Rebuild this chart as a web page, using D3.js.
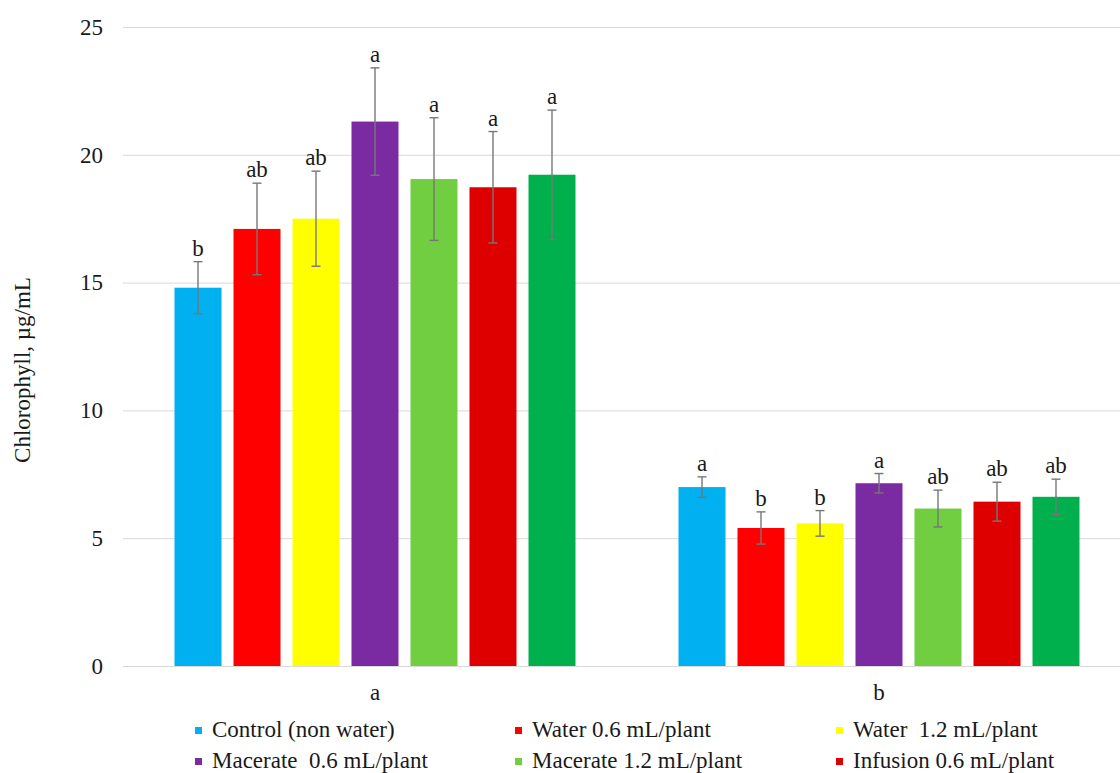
<!DOCTYPE html>
<html>
<head>
<meta charset="utf-8">
<script src="https://cdn.jsdelivr.net/npm/d3@7"></script>
<style>
  html, body { margin: 0; padding: 0; background: #fff; }
  svg { display: block; }
  text { font-family: "Liberation Serif", "Times New Roman", serif; fill: #1a1a1a; }
</style>
</head>
<body>
<svg id="chart" width="1120" height="773"></svg>
<script>
// Groups on the category axis
const groups = ["a", "b"];

// Treatments (one bar per treatment within each group)
const treatments = [
  "Control (non water)",
  "Water 0.6 mL/plant",
  "Water  1.2 mL/plant",
  "Macerate  0.6 mL/plant",
  "Macerate 1.2 mL/plant",
  "Infusion 0.6 mL/plant",
  "Infusion 1.2 mL/plant"
];
const treatmentColors = ["#00B0F0", "#FF0000", "#FFFF00", "#7B2BA1", "#70CE40", "#DE0000", "#00B04C"];

// Chlorophyll means (µg/mL), one array per group, in treatment order
const meansA = [14.8, 17.1, 17.5, 21.3, 19.05, 18.73, 19.22];
const meansB = [7.0, 5.4, 5.58, 7.15, 6.16, 6.43, 6.62];

// Error bar half-widths
const errA = [1.02, 1.79, 1.86, 2.1, 2.4, 2.18, 2.53];
const errB = [0.4, 0.63, 0.5, 0.38, 0.72, 0.76, 0.69];

// Significance letters
const lettersA = ["b", "ab", "ab", "a", "a", "a", "a"];
const lettersB = ["a", "b", "b", "a", "ab", "ab", "ab"];

// Y axis ticks
const yTicks = [0, 5, 10, 15, 20, 25];
const yTitle = "Chlorophyll, µg/mL";

const rows = [
  { group: "a", means: meansA, errs: errA, letters: lettersA },
  { group: "b", means: meansB, errs: errB, letters: lettersB }
];

const FONT = "'Liberation Serif', 'Times New Roman', serif";
const svg = d3.select("#chart");
const plotLeft = 123, plotRight = 1131, plotTop = 27, plotBottom = 666;

const x0 = d3.scaleBand().domain(groups).range([plotLeft, plotRight]).paddingInner(0).paddingOuter(0);
const x1 = d3.scaleBand().domain(treatments).range([0, x0.bandwidth()])
  .paddingInner(12 / 59).paddingOuter(0.873);
const y = d3.scaleLinear().domain([0, 25]).range([plotBottom, plotTop]);
const color = d3.scaleOrdinal().domain(treatments).range(treatmentColors);

// Gridlines and value labels
const yAxis = svg.append("g")
  .attr("transform", `translate(${plotLeft},0)`)
  .call(d3.axisLeft(y).tickValues(yTicks).tickSize(-(plotRight - plotLeft)).tickPadding(20).tickFormat(d3.format("d")));
yAxis.select(".domain").remove();
yAxis.selectAll(".tick line").attr("stroke", "#D9D9D9").attr("stroke-width", 1);
yAxis.selectAll(".tick text").style("font-size", "23px").attr("fill", "#1a1a1a").style("font-family", FONT);

// Category labels
const xAxis = svg.append("g")
  .attr("transform", `translate(0,${plotBottom})`)
  .call(d3.axisBottom(x0).tickSize(0).tickPadding(18));
xAxis.select(".domain").remove();
xAxis.selectAll(".tick text").style("font-size", "23px").attr("fill", "#1a1a1a").style("font-family", FONT);

// Bars
const groupSel = svg.append("g").selectAll("g.grp")
  .data(rows).join("g")
  .attr("class", "grp")
  .attr("transform", d => `translate(${x0(d.group)},0)`);

const items = groupSel.selectAll("g.item")
  .data(d => treatments.map((t, i) => ({ t, v: d.means[i], e: d.errs[i], l: d.letters[i] })))
  .join("g").attr("class", "item");

items.append("rect")
  .attr("x", d => x1(d.t))
  .attr("width", x1.bandwidth())
  .attr("y", d => y(d.v))
  .attr("height", d => y(0) - y(d.v))
  .attr("fill", d => color(d.t));

// Error bars
const capW = 9;
const eb = items.append("g").attr("stroke", "#777777").attr("stroke-width", 1.4);
eb.append("line")
  .attr("x1", d => x1(d.t) + x1.bandwidth() / 2)
  .attr("x2", d => x1(d.t) + x1.bandwidth() / 2)
  .attr("y1", d => y(d.v + d.e))
  .attr("y2", d => y(d.v - d.e));
eb.append("line")
  .attr("x1", d => x1(d.t) + x1.bandwidth() / 2 - capW / 2)
  .attr("x2", d => x1(d.t) + x1.bandwidth() / 2 + capW / 2)
  .attr("y1", d => y(d.v + d.e))
  .attr("y2", d => y(d.v + d.e));
eb.append("line")
  .attr("x1", d => x1(d.t) + x1.bandwidth() / 2 - capW / 2)
  .attr("x2", d => x1(d.t) + x1.bandwidth() / 2 + capW / 2)
  .attr("y1", d => y(d.v - d.e))
  .attr("y2", d => y(d.v - d.e));

// Significance letters above the error bars
items.append("text")
  .attr("x", d => x1(d.t) + x1.bandwidth() / 2)
  .attr("y", d => y(d.v + d.e) - 6)
  .attr("text-anchor", "middle")
  .style("font-size", "23px")
  .style("font-family", FONT)
  .text(d => d.l);

// Y axis title
svg.append("text")
  .attr("transform", "translate(30,370) rotate(-90)")
  .attr("text-anchor", "middle")
  .style("font-size", "23px")
  .style("font-family", FONT)
  .text(yTitle);

// Legend: three columns
const legend = svg.append("g");
const legX = [195, 515, 836], legY0 = 737, legStep = 31;
const li = legend.selectAll("g").data(treatments).join("g")
  .attr("transform", (d, i) => `translate(${legX[i % 3]},${legY0 + Math.floor(i / 3) * legStep})`);
li.append("rect").attr("x", 0).attr("y", -10).attr("width", 7).attr("height", 7).attr("fill", d => color(d));
li.append("text").attr("x", 17).attr("y", 0)
  .style("font-size", "23px").style("font-family", FONT).style("white-space", "pre")
  .attr("xml:space", "preserve").text(d => d);
</script>
</body>
</html>
